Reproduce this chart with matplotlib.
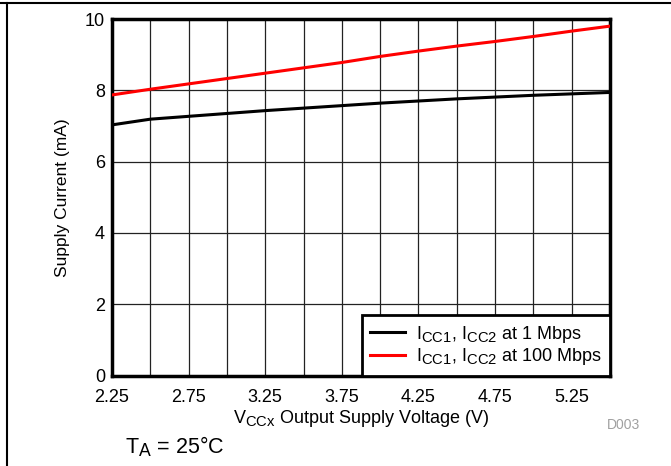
import matplotlib
matplotlib.use("Agg")
import matplotlib.pyplot as plt
import matplotlib._mathtext as _mt
import numpy as np

_mt.SHRINK_FACTOR = 0.82

plt.rcParams['font.family'] = ['Liberation Sans', 'DejaVu Sans']
plt.rcParams['mathtext.fontset'] = 'custom'
plt.rcParams['mathtext.rm'] = 'Liberation Sans'
plt.rcParams['mathtext.it'] = 'Liberation Sans'
plt.rcParams['mathtext.default'] = 'regular'

voltage = [2.25, 2.5, 2.75, 3.0, 3.25, 3.5, 3.75, 4.0, 4.25, 4.5, 4.75, 5.0, 5.25, 5.5]
icc_1mbps = [7.03, 7.19, 7.27, 7.35, 7.43, 7.50, 7.57, 7.64, 7.70, 7.76, 7.81, 7.86, 7.90, 7.94]
icc_100mbps = [7.87, 8.03, 8.18, 8.33, 8.48, 8.63, 8.78, 8.95, 9.10, 9.24, 9.37, 9.51, 9.66, 9.80]
xticks = [2.25, 2.75, 3.25, 3.75, 4.25, 4.75, 5.25]
yticks = [0, 2, 4, 6, 8, 10]
labels = [r'I$_{CC1}$, I$_{CC2}$ at 1 Mbps', r'I$_{CC1}$, I$_{CC2}$ at 100 Mbps']

fig = plt.figure(figsize=(6.71, 4.66), dpi=100)
ax = fig.add_axes([112/671, 1-375.5/466, (610-112)/671, (375.5-19)/466])

ax.plot(voltage, icc_1mbps, color='black', lw=2.2, label=labels[0], zorder=3)
ax.plot(voltage, icc_100mbps, color='#ff0000', lw=2.2, label=labels[1], zorder=3)

ax.set_xlim(2.25, 5.5)
ax.set_ylim(0, 10)
ax.set_xticks(xticks)
ax.set_xticks(np.arange(2.25, 5.51, 0.25), minor=True)
ax.set_yticks(yticks)
ax.grid(True, which='both', axis='x', color='#222222', lw=0.9)
ax.grid(True, which='major', axis='y', color='#222222', lw=0.9)
ax.tick_params(which='both', length=0, labelsize=13)
ax.tick_params(axis='x', pad=10)
ax.tick_params(axis='y', pad=5)
for s in ax.spines.values():
    s.set_linewidth(2.5)
    s.set_color('black')

ax.set_xlabel(r'V$_{CCx}$ Output Supply Voltage (V)', fontsize=13, labelpad=1)
ax.set_ylabel('Supply Current (mA)', fontsize=12.5, labelpad=11)

leg = ax.legend(loc='lower right', fontsize=13, frameon=True, fancybox=False,
                borderaxespad=0, handlelength=1.95, handletextpad=0.6,
                borderpad=0.45, labelspacing=0.1)
leg.get_frame().set_edgecolor('black')
leg.get_frame().set_linewidth(2.0)
leg.get_frame().set_alpha(1)

fig.text(125/671, 1-447/466, r'T$_A$ = 25°C', fontsize=15.5, va='center', ha='left')
fig.text(624/671, 1-425/466, 'D003', fontsize=10, color='#a0a0a0', va='center', ha='center')

# figure frame lines (top and left)
fig.add_artist(plt.Line2D([0, 1], [1-3/466, 1-3/466], color='black', lw=1.5, transform=fig.transFigure))
fig.add_artist(plt.Line2D([7/671, 7/671], [0, 1-3/466], color='black', lw=1.5, transform=fig.transFigure))

fig.savefig('out.png', dpi=100)
